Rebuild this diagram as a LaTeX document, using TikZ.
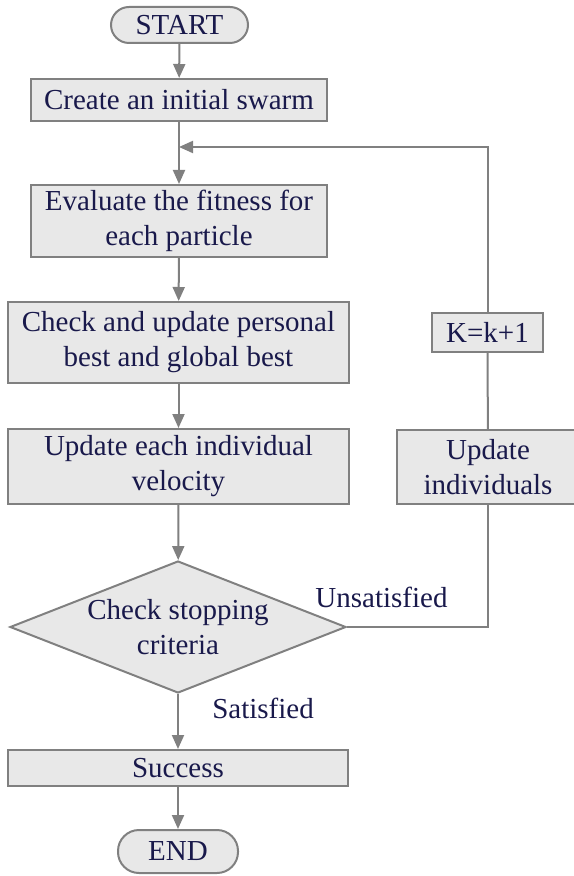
\documentclass[tikz,border=0pt]{standalone}
\usepackage{fontspec}
\setmainfont{Liberation Serif}
\usepackage{tikz}
\usetikzlibrary{positioning, arrows.meta, shapes.geometric}
\definecolor{boxfill}{RGB}{232,232,232}
\definecolor{boxline}{RGB}{128,128,128}
\definecolor{boxtext}{RGB}{25,25,75}
\tikzstyle{startstop} = [rectangle, rounded corners=9pt, minimum width=68.5pt, minimum height=18pt, inner sep=0pt, text centered, draw=boxline, line width=1pt, fill=boxfill, text=boxtext]
\tikzstyle{process} = [rectangle, minimum width=148pt, minimum height=21pt, inner sep=0pt, text centered, align=center, draw=boxline, line width=1pt, fill=boxfill, text=boxtext]
\tikzstyle{decision} = [diamond, shape aspect=2.55, minimum width=168pt, minimum height=66pt, inner sep=0pt, text centered, align=center, draw=boxline, line width=1pt, fill=boxfill, text=boxtext]
\tikzstyle{tag} = [text=boxtext, inner sep=0pt]
\tikzstyle{arrow} = [line width=1pt, draw=boxline, -{Triangle[width=6pt,length=7pt]}]
\tikzstyle{link} = [line width=1pt, draw=boxline]

\begin{document}
\begin{tikzpicture}[x=0.5pt, y=-0.5pt, font=\fontsize{14.5}{17.5}\selectfont]
\useasboundingbox (0,0) rectangle (573,876);
\node (start) [startstop] at (179.5,25) {START};
\node (create) [process] at (179,100) {Create an initial swarm};
\node (evaluate) [process, minimum height=36pt] at (179,221) {Evaluate the fitness for\\each particle};
\node (best) [process, minimum width=170.5pt, minimum height=40.5pt] at (178.5,342.5) {Check and update personal\\best and global best};
\node (velocity) [process, minimum width=170.5pt, minimum height=37.5pt] at (178.5,466.5) {Update each individual\\velocity};
\node (check) [decision] at (178,627) {Check stopping\\criteria};
\node (success) [process, minimum width=170pt, minimum height=18pt] at (178,768) {Success};
\node (end) [startstop, minimum width=60pt, minimum height=21.5pt, rounded corners=10.5pt] at (178,851.5) {END};
\node (kstep) [process, minimum width=55.5pt, minimum height=19.5pt] at (487.5,332.5) {K=k+1};
\node (updind) [process, minimum width=91pt, minimum height=37pt] at (488,467) {Update\\individuals};
\node (unsat) [tag] at (381.5,597) {Unsatisfied};
\node (sat) [tag] at (263,708) {Satisfied};
\coordinate (join) at (179,147);

\draw [arrow] (start) -- (create);
\draw [arrow] (create) -- (evaluate);
\draw [arrow] (evaluate) -- (best);
\draw [arrow] (best) -- (velocity);
\draw [arrow] (velocity) -- (check);
\draw [arrow] (check) -- (success);
\draw [arrow] (success) -- (end);
\draw [link] (check.east) -| (updind.south);
\draw [link] (updind) -- (kstep);
\draw [arrow] (kstep.north) |- (join);
\end{tikzpicture}
\end{document}
